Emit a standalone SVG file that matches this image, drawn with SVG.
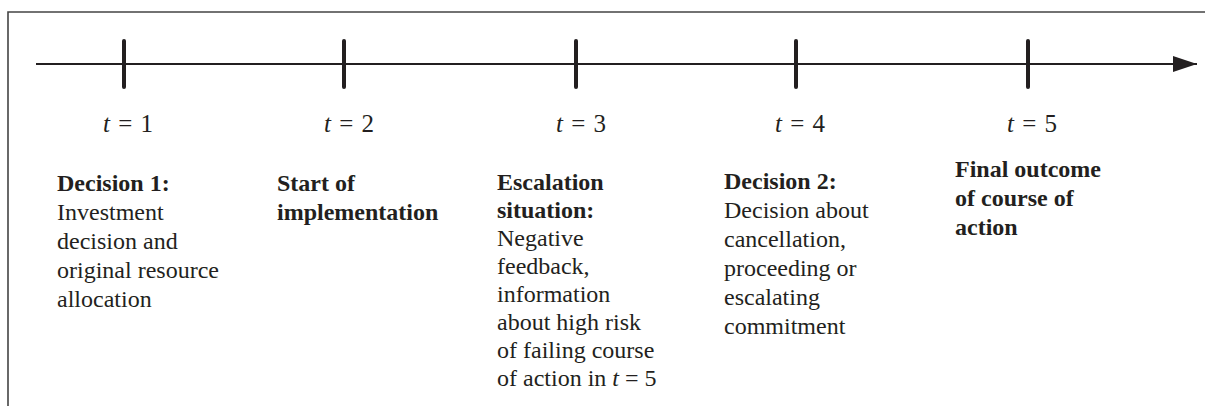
<svg xmlns="http://www.w3.org/2000/svg" width="1205" height="406" viewBox="0 0 1205 406">
<style>
.frame{fill:none;stroke:#444;stroke-width:1.6}
.axis{stroke:#231f20;stroke-width:2;fill:none}
.tick{stroke:#231f20;stroke-width:4;stroke-linecap:round}
text{font-family:"Liberation Serif","Times New Roman",serif;font-size:24px;fill:#231f20}
.b{font-weight:bold}
.t{text-anchor:middle;font-size:25px;word-spacing:2px}
.i{font-style:italic}
</style>
<defs>
<marker id="arr" markerWidth="24" markerHeight="16" refX="24" refY="8" orient="auto" markerUnits="userSpaceOnUse">
<path d="M0,0 L24,8 L0,16 Z" fill="#231f20"/>
</marker>
</defs>
<path class="frame" d="M8,406 L8,12 L1205,12"/>
<g id="connectors">
<line class="axis" x1="36" y1="64" x2="1197" y2="64" marker-end="url(#arr)"/>
</g>
<g id="t1">
<line class="tick" x1="124" y1="41" x2="124" y2="87"/>
<text class="t" x="128" y="132"><tspan class="i">t</tspan> = 1</text>
<text x="57" y="191"><tspan class="b">Decision 1:</tspan><tspan x="57" dy="29">Investment</tspan><tspan x="57" dy="29">decision and</tspan><tspan x="57" dy="29">original resource</tspan><tspan x="57" dy="29">allocation</tspan></text>
</g>
<g id="t2">
<line class="tick" x1="344" y1="41" x2="344" y2="87"/>
<text class="t" x="349" y="132"><tspan class="i">t</tspan> = 2</text>
<text class="b" x="277" y="191">Start of<tspan x="277" dy="29">implementation</tspan></text>
</g>
<g id="t3">
<line class="tick" x1="576" y1="41" x2="576" y2="87"/>
<text class="t" x="581" y="132"><tspan class="i">t</tspan> = 3</text>
<text x="497" y="190"><tspan class="b">Escalation</tspan><tspan class="b" x="497" dy="28">situation:</tspan><tspan x="497" dy="28">Negative</tspan><tspan x="497" dy="28">feedback,</tspan><tspan x="497" dy="28">information</tspan><tspan x="497" dy="28">about high risk</tspan><tspan x="497" dy="28">of failing course</tspan><tspan x="497" dy="28">of action in <tspan class="i">t</tspan> = 5</tspan></text>
</g>
<g id="t4">
<line class="tick" x1="796" y1="41" x2="796" y2="87"/>
<text class="t" x="800" y="132"><tspan class="i">t</tspan> = 4</text>
<text x="724" y="189"><tspan class="b">Decision 2:</tspan><tspan x="724" dy="29">Decision about</tspan><tspan x="724" dy="29">cancellation,</tspan><tspan x="724" dy="29">proceeding or</tspan><tspan x="724" dy="29">escalating</tspan><tspan x="724" dy="29">commitment</tspan></text>
</g>
<g id="t5">
<line class="tick" x1="1028" y1="41" x2="1028" y2="87"/>
<text class="t" x="1032" y="132"><tspan class="i">t</tspan> = 5</text>
<text class="b" x="955" y="177">Final outcome<tspan x="955" dy="29">of course of</tspan><tspan x="955" dy="29">action</tspan></text>
</g>
</svg>
